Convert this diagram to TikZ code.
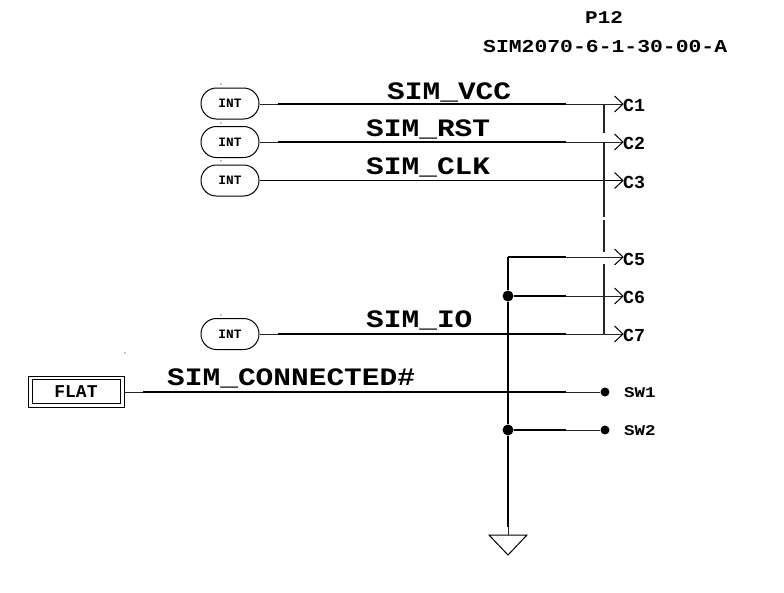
\documentclass[tikz,border=0pt]{standalone}
\usepackage{fontspec}
\setmainfont{Liberation Mono}[BoldFont={Liberation Mono Bold}]
\newcommand{\tx}[2]{\fontsize{#1}{#1}\selectfont\bfseries #2}
\newcommand{\sq}[2]{\scalebox{1}[#1]{#2}}
\tikzset{
  wire/.style={line width=1.6pt,black},
  fine/.style={line width=1pt,black!85},
  intport/.style={draw,line width=1pt,rounded corners=15.4pt,minimum width=58pt,minimum height=31pt,inner sep=0pt,font=\tx{12.8}{}},
  pinmark/.style={line width=1pt},
  pinlabel/.style={anchor=base west,inner sep=0pt,font=\tx{18.3}{}},
  swlabel/.style={anchor=base west,inner sep=0pt,font=\tx{17.5}{}},
  netlabel/.style={anchor=base west,inner sep=0pt,font=\tx{29.5}{}},
  junction/.style={circle,fill=black,inner sep=0pt,minimum size=11pt},
  swdot/.style={circle,fill=black,inner sep=0pt,minimum size=9pt},
  speck/.style={circle,fill=black,inner sep=0pt,minimum size=1.2pt},
}
\begin{document}
\begin{tikzpicture}[x=1pt,y=-1pt]
\useasboundingbox (0,0) rectangle (784,592);
% ports
\node[intport] (i1) at (230,103.5) {INT};
\node[intport] (i2) at (230,142) {INT};
\node[intport] (i3) at (230,180.5) {INT};
\node[intport] (i4) at (230,334) {INT};
\node[draw,line width=1pt,minimum width=96pt,minimum height=31pt,inner sep=0pt] (flat) at (76,391.5) {};
\node[draw,line width=1pt,minimum width=88pt,minimum height=24pt,inner sep=0pt,font=\tx{18}{}] (flati) at (76,391.5) {FLAT};
% specks
\node[speck] at (221,84) {};
\node[speck] at (221,123) {};
\node[speck] at (221,161) {};
\node[speck] at (221,315) {};
\node[speck] at (125,353) {};
% pin coordinates
\coordinate (c1) at (623,104);
\coordinate (c2) at (623,142);
\coordinate (c3) at (623,180.5);
\coordinate (c5) at (623,257);
\coordinate (c6) at (623,296);
\coordinate (c7) at (623,334);
\node[swdot] (sw1) at (605,392) {};
\node[swdot] (sw2) at (605,430) {};
\node[junction] (j6) at (508,296) {};
\node[junction] (j2) at (508,430) {};
\coordinate (v5) at (508,257);
\coordinate (gt) at (508,535);
% wires: fine along their ends, heavier in the middle
\draw[fine] (i1.east |- c1) -- (c1);
\draw[fine] (i2.east |- c2) -- (c2);
\draw[line width=1.2pt] (i3.east |- c3) -- (c3);
\draw[fine] (i4.east |- c7) -- (c7);
\draw[fine] (c5) -- (v5);
\draw[fine] (j6) -- (c6);
\draw[fine] (flat.east |- sw1) -- (sw1);
\draw[fine] (j2) -- (sw2);
\draw[wire] (278,104) -- (566,104);
\draw[wire] (278,142) -- (566,142);
\draw[wire] (278,334) -- (566,334);
\draw[wire] (143,392) -- (566,392);
\draw[wire] (v5) -- (566,257);
\draw[wire] (j6) -- (566,296);
\draw[wire] (j2) -- (566,430);
\draw[wire] (v5) -- (j6) -- (j2) -- (508,527);
\draw[fine] (508,527) -- (gt);
% ground
\draw[pinmark] (489,535) -- (527,535) -- (508,555) -- cycle;
% bus
\draw[line width=1.2pt,black!85] (604,104) -- (604,133) (604,142) -- (604,217) (604,220) -- (604,252) (604,264) -- (604,334);
% pin arrows
\foreach \p in {c1,c2,c3,c5,c6,c7}{
  \draw[pinmark] ([xshift=-8.5pt,yshift=-8pt]\p) -- (\p) -- ([xshift=-8.5pt,yshift=8pt]\p);
}
% pin labels
\node[pinlabel] at (623,111) {C1};
\node[pinlabel] at (623,149) {C2};
\node[pinlabel] at (623,188) {C3};
\node[pinlabel] at (623,265) {C5};
\node[pinlabel] at (623,303) {C6};
\node[pinlabel] at (623,341) {C7};
\node[swlabel] at (624,397) {\sq{.85}{SW1}};
\node[swlabel] at (624,435) {\sq{.85}{SW2}};
% net labels
\node[netlabel] at (387,99) {\sq{.85}{SIM\_VCC}};
\node[netlabel] at (366,136.5) {\sq{.85}{SIM\_RST}};
\node[netlabel] at (366,174.5) {\sq{.85}{SIM\_CLK}};
\node[netlabel] at (366,327) {\sq{.85}{SIM\_IO}};
\node[netlabel] at (167,385) {\sq{.85}{SIM\_CONNECTED\#}};
% title
\node[anchor=base west,inner sep=0pt,font=\tx{21}{}] at (585,23) {\sq{.85}{P12}};
\node[anchor=base west,inner sep=0pt,font=\tx{21.4}{}] at (483,52) {\sq{.85}{SIM2070-6-1-30-00-A}};
\end{tikzpicture}
\end{document}
